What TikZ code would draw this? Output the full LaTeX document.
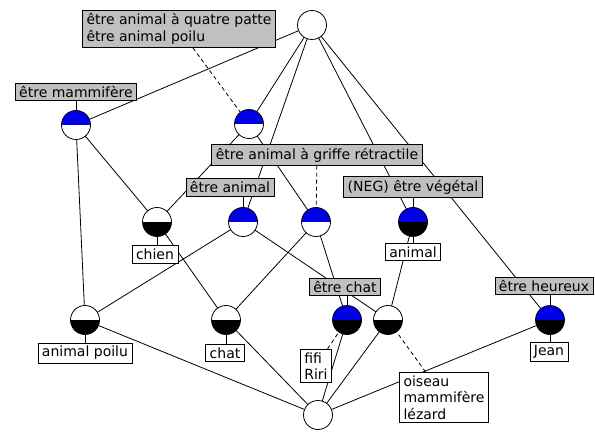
\documentclass[tikz,border=0pt]{standalone}
\usepackage{fontspec}
\setmainfont{DejaVu Sans}
\definecolor{intColor}{HTML}{0000E6}
\definecolor{attrColor}{HTML}{C0C0C0}
\tikzset{
	concept/.style 2 args={circle, draw, minimum size=29pt, inner sep=0pt, outer sep=0pt,
		path picture={
			\fill[#1] (path picture bounding box.north west) rectangle (path picture bounding box.east);
			\fill[#2] (path picture bounding box.west) rectangle (path picture bounding box.south east);}},
	attr/.style={draw, fill=attrColor, inner xsep=4pt, inner ysep=3.2pt, align=left},
	obj/.style={draw, fill=white, inner xsep=4pt, inner ysep=3.2pt, align=left},
	hidden/.style={dashed, dash pattern=on 4pt off 3pt}
}

\begin{document}
\begin{tikzpicture}[x=1pt, y=-1pt, line width=0.8pt, font=\fontsize{14}{16.5}\selectfont]
			\useasboundingbox (0,0) rectangle (595,433);
			\node[concept={white}{white}] (top) at (312,25) {};
			\node[concept={intColor}{white}] (mam) at (76,125) {};
			\node[concept={intColor}{white}] (quad) at (249,124) {};
			\node[concept={white}{black}] (chien) at (157,222) {};
			\node[concept={intColor}{white}] (anim) at (243,222) {};
			\node[concept={intColor}{white}] (griffe) at (316,222) {};
			\node[concept={intColor}{black}] (veg) at (413,222) {};
			\node[concept={white}{black}] (poilu) at (85,320) {};
			\node[concept={white}{black}] (chat) at (226,320) {};
			\node[concept={intColor}{black}] (etrechat) at (347,320) {};
			\node[concept={white}{black}] (divers) at (388,320) {};
			\node[concept={intColor}{black}] (heureux) at (550,320) {};
			\node[concept={white}{white}] (bot) at (318,415) {};
			\path (top) edge (mam) edge (quad) edge (anim) edge (veg) edge (heureux);
			\path (mam) edge (chien) edge (poilu);
			\path (quad) edge (chien) edge (griffe);
			\path (anim) edge (poilu) edge (divers);
			\path (chien) edge (chat);
			\path (griffe) edge (chat) edge (etrechat);
			\path (veg) edge (divers);
			\path (bot) edge (poilu) edge (chat) edge (etrechat) edge (divers) edge (heureux);
			% attributs
			\node[attr] (lquad) at (179,29) {être animal à quatre patte\\être animal poilu};
			\node[attr] (lmam) at (76,92) {être mammifère};
			\node[attr] (lgriffe) at (317,155) {être animal à griffe rétractile};
			\node[attr] (lanim) at (230,187.5) {être animal};
			\node[attr] (lveg) at (413,187) {(NEG) être végétal};
			\node[attr] (letrechat) at (345,287) {être chat};
			\node[attr] (lheureux) at (544,286) {être heureux};
			% objets
			\node[obj] (ochien) at (155,254.5) {chien};
			\node[obj] (oanimal) at (413,252) {animal};
			\node[obj] (opoilu) at (85,353) {animal poilu};
			\node[obj] (ochat) at (225,353) {chat};
			\node[obj] (ofifi) at (316,366) {fifi\\Riri};
			\node[obj] (odivers) at (444,397.5) {oiseau\\mammifère\\lézard};
			\node[obj] (ojean) at (549,352) {Jean};
			\draw[hidden] (lquad) -- (quad);
			\draw[hidden] (lgriffe) -- (griffe);
			\draw[hidden] (ofifi) -- (etrechat);
			\draw[hidden] (odivers) -- (divers);
			\draw (mam.north) -- (mam |- lmam.south);
			\draw (anim.north) -- (anim |- lanim.south);
			\draw (veg.north) -- (veg |- lveg.south);
			\draw (etrechat.north) -- (etrechat |- letrechat.south);
			\draw (heureux.north) -- (heureux |- lheureux.south);
			\draw (chien.south) -- (chien |- ochien.north);
			\draw (veg.south) -- (veg |- oanimal.north);
			\draw (poilu.south) -- (poilu |- opoilu.north);
			\draw (chat.south) -- (chat |- ochat.north);
			\draw (heureux.south) -- (heureux |- ojean.north);
		\end{tikzpicture}
\end{document}
